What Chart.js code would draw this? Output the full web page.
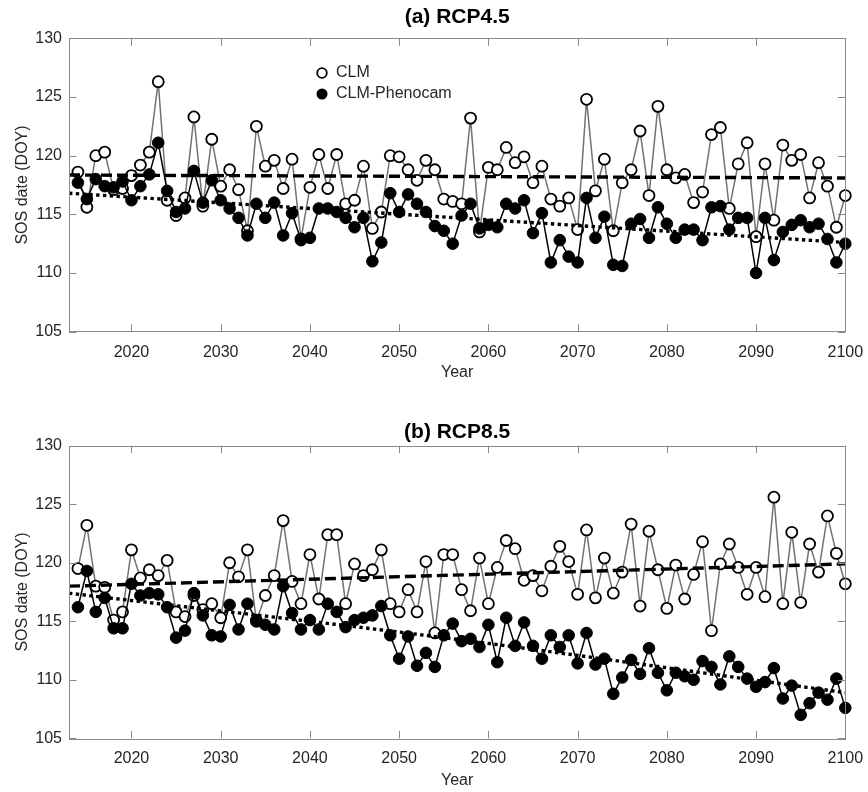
<!DOCTYPE html>
<html>
<head>
<meta charset="utf-8">
<script src="https://cdn.jsdelivr.net/npm/chart.js@4.4.1/dist/chart.umd.min.js"></script>
<style>
  html, body { margin: 0; padding: 0; background: #fff; }
  .panel { position: absolute; left: 0; width: 868px; height: 396px; }
  #panelA { top: 0; }
  #panelB { top: 396px; }
</style>
</head>
<body>
<div class="panel" id="panelA"><canvas id="chartA" width="868" height="396"></canvas></div>
<div class="panel" id="panelB"><canvas id="chartB" width="868" height="396"></canvas></div>
<script>
// SOS date per year, 2014-2100
const firstYear = 2014;
const yearTicks = [2020, 2030, 2040, 2050, 2060, 2070, 2080, 2090, 2100];
const sosTicks = [105, 110, 115, 120, 125, 130];

const clm45 = [
  118.6, 115.6, 120.0, 120.3, 117.1, 117.2, 118.3, 119.2, 120.3, 126.3,
  116.2, 114.9, 116.4, 123.3, 115.7, 121.4, 117.4, 118.8, 117.1, 113.6,
  122.5, 119.1, 119.6, 117.2, 119.7, 112.9, 117.3, 120.1, 117.2, 120.1,
  115.9, 116.2, 119.1, 113.8, 115.2, 120.0, 119.9, 118.8, 117.9, 119.6,
  118.8, 116.3, 116.1, 115.9, 123.2, 113.5, 119.0, 118.8, 120.7, 119.4,
  119.9, 117.7, 119.1, 116.3, 115.7, 116.4, 113.7, 124.8, 117.0, 119.7,
  113.6, 117.7, 118.8, 122.1, 116.6, 124.2, 118.8, 118.1, 118.4, 116.0,
  116.9, 121.8, 122.4, 115.5, 119.3, 121.1, 113.1, 119.3, 114.5, 120.9,
  119.6, 120.1, 116.4, 119.4, 117.4, 113.9, 116.6
];
const pheno45 = [
  117.7, 116.3, 118.0, 117.4, 117.3, 117.8, 116.2, 117.4, 118.4, 121.1,
  117.0, 115.2, 115.5, 118.7, 116.0, 117.9, 116.2, 115.5, 114.7, 113.2,
  115.9, 114.7, 116.0, 113.2, 115.1, 112.8, 113.0, 115.5, 115.5, 115.2,
  114.7, 113.9, 114.7, 111.0, 112.6, 116.8, 115.2, 116.7, 115.9, 115.2,
  114.0, 113.6, 112.5, 114.9, 115.9, 113.8, 114.1, 113.9, 115.9, 115.5,
  116.2, 113.4, 115.1, 110.9, 112.8, 111.4, 110.9, 116.4, 113.0, 114.8,
  110.7, 110.6, 114.2, 114.6, 113.0, 115.6, 114.2, 113.0, 113.7, 113.7,
  112.8, 115.6, 115.7, 113.7, 114.7, 114.7, 110.0, 114.7, 111.1, 113.5,
  114.1, 114.5, 113.9, 114.2, 112.9, 110.9, 112.5
];
const clm85 = [
  119.5, 123.2, 118.0, 117.9, 115.1, 115.8, 121.1, 118.7, 119.4, 118.9,
  120.2, 115.8, 115.4, 117.2, 116.0, 116.5, 115.3, 120.0, 118.8, 121.1,
  115.0, 117.2, 118.9, 123.6, 118.4, 116.5, 120.7, 116.9, 122.4, 122.4,
  116.5, 119.9, 118.9, 119.4, 121.1, 116.5, 115.8, 117.7, 115.8, 120.1,
  114.0, 120.7, 120.7, 117.7, 115.9, 120.4, 116.5, 119.6, 121.9, 121.2,
  118.5, 118.9, 117.6, 119.7, 121.4, 120.1, 117.3, 122.8, 117.0, 120.4,
  117.4, 119.2, 123.3, 116.3, 122.7, 119.4, 116.1, 119.8, 116.9, 119.0,
  121.8, 114.2, 119.9, 121.6, 119.6, 117.3, 119.6, 117.1, 125.6, 116.5,
  122.6, 116.6, 121.6, 119.2, 124.0, 120.8, 118.2
];
const pheno85 = [
  116.2, 119.3, 115.8, 117.0, 114.4, 114.4, 118.2, 117.2, 117.4, 117.3,
  116.2, 113.6, 114.2, 117.4, 115.5, 113.8, 113.7, 116.4, 114.3, 116.5,
  115.1, 114.7, 114.3, 118.0, 115.7, 114.3, 115.1, 114.3, 116.5, 115.8,
  114.5, 115.1, 115.3, 115.5, 116.3, 113.8, 111.8, 113.7, 111.2, 112.3,
  111.1, 113.8, 114.8, 113.3, 113.5, 112.8, 114.7, 111.5, 115.3, 112.9,
  114.9, 112.9, 111.8, 113.8, 112.8, 113.8, 111.4, 114.0, 111.3, 111.8,
  108.8, 110.2, 111.7, 110.5, 112.7, 110.6, 109.1, 110.6, 110.3, 110.0,
  111.6, 111.1, 109.6, 112.0, 111.1, 110.1, 109.4, 109.8, 111.0, 108.4,
  109.5, 107.0, 108.0, 108.9, 108.3, 110.1, 107.6
];

// fitted trend lines
const clm45TrendYears = [2013, 2100];
const clm45Trend = [118.35, 118.1];
const pheno45TrendYears = [2013, 2100];
const pheno45Trend = [116.8, 112.6];
const clm85TrendYears = [2013, 2100];
const clm85Trend = [118.0, 119.9];
const pheno85TrendYears = [2013, 2056, 2100];
const pheno85Trend = [117.4, 113.5, 108.9];

const FONT = 'Liberation Sans, Arial, Helvetica, sans-serif';
const TEXT = '#262626';
const BOX = '#8a8a8a';

function series(values) {
  return values.map((v, i) => ({ x: firstYear + i, y: v }));
}
function trend(years, values) {
  return years.map((x, i) => ({ x: x, y: values[i] }));
}

// box around the plot with inward tick marks on all four sides
const boxAxes = {
  id: 'boxAxes',
  afterDraw(chart) {
    const { ctx, chartArea: a, scales } = chart;
    const len = 7.5;
    ctx.save();
    ctx.strokeStyle = BOX;
    ctx.lineWidth = 1;
    ctx.strokeRect(Math.round(a.left) + 0.5, Math.round(a.top) + 0.5,
      Math.round(a.right - a.left), Math.round(a.bottom - a.top));
    ctx.beginPath();
    yearTicks.forEach(t => {
      const x = Math.round(scales.x.getPixelForValue(t)) + 0.5;
      ctx.moveTo(x, a.bottom); ctx.lineTo(x, a.bottom - len);
      ctx.moveTo(x, a.top); ctx.lineTo(x, a.top + len);
    });
    sosTicks.forEach(t => {
      const y = Math.round(scales.y.getPixelForValue(t)) + 0.5;
      ctx.moveTo(a.left, y); ctx.lineTo(a.left + len, y);
      ctx.moveTo(a.right, y); ctx.lineTo(a.right - len, y);
    });
    ctx.stroke();
    ctx.restore();
  }
};

// legend drawn inside the upper panel
const innerLegend = {
  id: 'innerLegend',
  afterDraw(chart, args, opts) {
    if (!opts.show) return;
    const ctx = chart.ctx;
    ctx.save();
    ctx.font = '16px ' + FONT;
    ctx.fillStyle = TEXT;
    ctx.textBaseline = 'middle';
    ctx.fillText('CLM', 336, 73);
    ctx.fillText('CLM-Phenocam', 336, 94);
    ctx.beginPath();
    ctx.arc(322, 73, 4.8, 0, Math.PI * 2);
    ctx.fillStyle = '#fff';
    ctx.fill();
    ctx.lineWidth = 1.8;
    ctx.strokeStyle = '#000';
    ctx.stroke();
    ctx.beginPath();
    ctx.arc(322, 94, 5.5, 0, Math.PI * 2);
    ctx.fillStyle = '#000';
    ctx.fill();
    ctx.restore();
  }
};

function makePanel(id, title, clm, pheno, trends, layout) {
  const datasets = [
    {
      label: 'CLM trend',
      data: trend(trends[0], trends[1]),
      borderColor: '#000', borderWidth: 3.4, borderDash: [11, 5],
      pointRadius: 0, order: 0, clip: false
    },
    {
      label: 'CLM-Phenocam trend',
      data: trend(trends[2], trends[3]),
      borderColor: '#000', borderWidth: 3.4, borderDash: [3.4, 3.4],
      cubicInterpolationMode: 'monotone',
      pointRadius: 0, order: 0, clip: false
    },
    {
      label: 'CLM-Phenocam',
      data: series(pheno),
      borderColor: '#000', borderWidth: 1.5,
      pointRadius: 5.8, pointBackgroundColor: '#000', pointBorderColor: '#000',
      pointBorderWidth: 1, order: 1, clip: false
    },
    {
      label: 'CLM',
      data: series(clm),
      borderColor: '#727272', borderWidth: 1.5,
      pointRadius: 5.5, pointBackgroundColor: '#fff', pointBorderColor: '#000',
      pointBorderWidth: 1.8, order: 2, clip: false
    }
  ];

  return new Chart(document.getElementById(id), {
    type: 'line',
    data: { datasets: datasets },
    plugins: [boxAxes, innerLegend],
    options: {
      responsive: false,
      animation: false,
      events: [],
      layout: { padding: { left: 0, right: 22.7, top: 0, bottom: 0 } },
      plugins: {
        legend: { display: false },
        tooltip: { enabled: false },
        title: {
          display: true,
          fullSize: false,
          text: title,
          color: '#000',
          font: { family: FONT, size: 21, weight: 'bold' },
          padding: { top: layout.titleTop, bottom: layout.titleBottom }
        },
        innerLegend: { show: layout.legend }
      },
      scales: {
        x: {
          type: 'linear',
          min: 2013,
          max: 2100,
          grid: { display: false, drawTicks: false, tickLength: 0 },
          border: { display: false },
          afterBuildTicks: s => { s.ticks = yearTicks.map(v => ({ value: v })); },
          afterFit: s => {
            s.height = layout.xHeight;
            s.paddingLeft = 0;
            s.paddingRight = 0;
          },
          ticks: {
            autoSkip: false, maxRotation: 0, padding: 11,
            color: TEXT, font: { family: FONT, size: 16 },
            callback: v => String(v)
          },
          title: {
            display: true, text: 'Year', color: TEXT,
            font: { family: FONT, size: 16 },
            padding: { top: 0, bottom: layout.yearPad }
          }
        },
        y: {
          min: 105,
          max: 130,
          grid: { display: false, drawTicks: false, tickLength: 0 },
          border: { display: false },
          afterBuildTicks: s => { s.ticks = sosTicks.map(v => ({ value: v })); },
          afterFit: s => {
            s.width = 69;
            s.paddingTop = 0;
            s.paddingBottom = 0;
          },
          ticks: {
            padding: 7, color: TEXT, font: { family: FONT, size: 16 }
          },
          title: {
            display: true, text: 'SOS date (DOY)', color: TEXT,
            font: { family: FONT, size: 16 },
            padding: { top: 13, bottom: 0 }
          }
        }
      }
    }
  });
}

makePanel('chartA', '(a) RCP4.5', clm45, pheno45,
  [clm45TrendYears, clm45Trend, pheno45TrendYears, pheno45Trend],
  { titleTop: 4.4, titleBottom: 8.7, xHeight: 64.3, yearPad: 13.4, legend: true });

makePanel('chartB', '(b) RCP8.5', clm85, pheno85,
  [clm85TrendYears, clm85Trend, pheno85TrendYears, pheno85Trend],
  { titleTop: 23.4, titleBottom: 1.1, xHeight: 53.7, yearPad: 1.4, legend: false });
</script>
</body>
</html>
